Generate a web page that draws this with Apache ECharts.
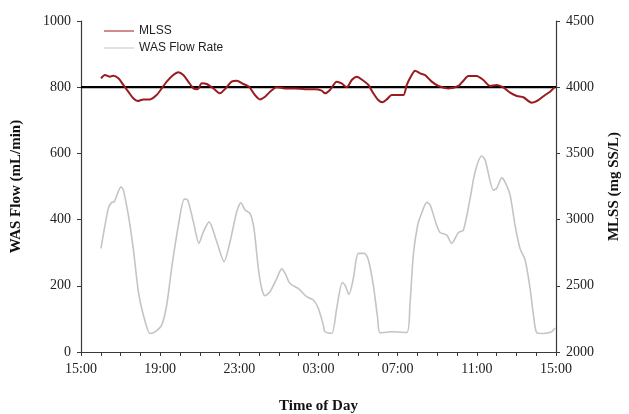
<!DOCTYPE html>
<html>
<head>
<meta charset="utf-8">
<script src="https://cdn.jsdelivr.net/npm/echarts@6/dist/echarts.min.js"></script>
<style>
  html, body { margin: 0; padding: 0; background: #ffffff; }
  #chart { width: 629px; height: 414px; }
</style>
</head>
<body>
<div id="chart"></div>
<script>
// Time is expressed in hours since midnight of the first day (15 = 15:00, 39 = 15:00 next day)
const wasHours = [16.01, 16.38, 16.55, 16.68, 17.02, 17.14, 17.39, 17.64, 17.9, 18.15, 18.49, 18.74, 19.08, 19.33, 19.58, 19.92, 20.22, 20.39, 20.68, 20.96, 21.18, 21.47,
  21.86, 22.23, 22.53, 22.87, 23.08, 23.29, 23.54, 23.74, 23.96, 24.13, 24.3, 24.55, 24.89, 25.14, 25.31, 25.56, 25.98, 26.4, 26.74, 26.99, 27.24,
  27.33, 27.67, 27.92, 28.2, 28.34, 28.54, 28.76, 29.01, 29.32, 29.52, 29.77, 29.99, 30.11, 30.7, 31.46, 31.62, 31.79, 32.01, 32.21, 32.47, 32.64, 32.97,
  33.14, 33.48, 33.73, 34.07, 34.32, 34.66, 34.91, 35.25, 35.42, 35.84, 36.0, 36.26, 36.42, 36.68, 36.93, 37.18, 37.44, 37.69, 37.86, 38.03, 38.36, 38.78, 38.95];
const wasFlow = [313, 434, 452, 454, 499, 489, 414, 313, 182, 112, 56, 61, 82, 142, 253, 383, 462, 459, 393, 328, 363, 393,
  333, 273, 333, 424, 451, 429, 419, 373, 253, 192, 170, 182, 222, 251, 238, 207, 192, 167, 157, 132, 82,
  61, 56, 132, 210, 202, 174, 222, 298, 298, 278, 202, 102, 58, 61, 59, 142, 293, 383, 419, 452, 444, 383,
  361, 353, 328, 361, 368, 464, 544, 592, 580, 489, 494, 526, 514, 474, 383, 313, 278, 192, 112, 58, 56, 61, 73];

const mlssHours = [16.01, 16.21, 16.47, 16.63, 16.89, 17.14, 17.39, 17.64, 17.86, 18.15, 18.49, 18.82, 19.08, 19.33, 19.66, 19.92, 20.17, 20.42, 20.68, 20.9,
  21.1, 21.35, 21.69, 22.02, 22.31, 22.61, 22.87, 23.2, 23.49, 23.79, 24.04, 24.3, 24.55, 24.89, 25.31, 25.81, 26.32, 26.82, 27.16,
  27.33, 27.58, 27.92, 28.17, 28.43, 28.68, 28.93, 29.27, 29.52, 29.77, 30.02, 30.23, 30.45, 30.7, 30.95, 31.29, 31.46, 31.71, 31.88, 32.13,
  32.38, 32.72, 33.06, 33.56, 34.07, 34.32, 34.57, 34.99, 35.33, 35.67, 36.0, 36.34, 36.68, 37.02, 37.35, 37.77, 38.11, 38.45, 38.7, 38.92];
const mlssValues = [4067, 4092, 4079, 4087, 4067, 4017, 3966, 3916, 3896, 3908, 3908, 3941, 3991, 4042, 4092, 4113, 4092, 4042, 3991, 3984,
  4029, 4024, 3991, 3954, 3991, 4042, 4049, 4024, 4004, 3941, 3908, 3928, 3966, 3999, 3991, 3991, 3984, 3984, 3974,
  3954, 3979, 4042, 4029, 3999, 4054, 4079, 4049, 4017, 3954, 3903, 3886, 3908, 3941, 3941, 3941, 4017, 4092, 4125, 4105,
  4092, 4042, 4009, 3991, 4009, 4049, 4085, 4085, 4054, 4009, 4017, 3999, 3959, 3934, 3924, 3883, 3903, 3941, 3966, 3999];

// Reference level drawn across the whole day
const refHours = [15, 39];
const refFlow = [800, 800];

const leftTicks = { min: 0, max: 1000, interval: 200 };
const rightTicks = { min: 2000, max: 4500, interval: 500 };
const xTicks = { min: 15, max: 39, interval: 1, labelEvery: 4 };

const zip = (xs, ys) => xs.map((x, i) => [x, ys[i]]);
const pad = n => (n < 10 ? '0' : '') + n;

const serif = '"Liberation Serif", "Times New Roman", serif';
const sans = '"Liberation Sans", Arial, sans-serif';
const axisColor = '#3a3a3a';

const chart = echarts.init(document.getElementById('chart'), null, { renderer: 'canvas' });
chart.setOption({
  animation: false,
  backgroundColor: '#ffffff',
  grid: { left: 81, right: 73, top: 21, bottom: 62, containLabel: false, outerBoundsMode: 'none' },
  legend: {
    left: 99, top: 20, orient: 'vertical', itemGap: 5,
    itemWidth: 30, itemHeight: 10,
    textStyle: { fontFamily: sans, fontSize: 12, color: '#222' },
    data: [
      { name: 'MLSS', icon: 'path://M0,4.5 L30,4.5 L30,5.5 L0,5.5 Z' },
      { name: 'WAS Flow Rate', icon: 'path://M0,4.5 L30,4.5 L30,5.5 L0,5.5 Z' }
    ]
  },
  xAxis: {
    type: 'value', min: xTicks.min, max: xTicks.max, interval: xTicks.interval,
    name: 'Time of Day', nameLocation: 'middle', nameGap: 47,
    nameTextStyle: { fontFamily: serif, fontSize: 15, fontWeight: 'bold', color: '#111' },
    axisLine: { lineStyle: { color: axisColor, width: 1.2 } },
    axisTick: { show: true, length: 4, lineStyle: { color: axisColor } },
    axisLabel: {
      fontFamily: serif, fontSize: 14, color: '#222', margin: 10,
      formatter: v => ((v - xTicks.min) % xTicks.labelEvery === 0 ? pad(v % 24) + ':00' : '')
    },
    splitLine: { show: false }
  },
  yAxis: [
    {
      type: 'value', min: leftTicks.min, max: leftTicks.max, interval: leftTicks.interval,
      name: 'WAS Flow (mL/min)', nameLocation: 'middle', nameGap: 57, nameRotate: 90,
      nameTextStyle: { fontFamily: serif, fontSize: 15, fontWeight: 'bold', color: '#111' },
      axisLine: { show: true, lineStyle: { color: axisColor, width: 1.2 } },
      axisTick: { show: true, length: 4, lineStyle: { color: axisColor } },
      axisLabel: { fontFamily: serif, fontSize: 14, color: '#222', margin: 10, formatter: v => String(v) },
      splitLine: { show: false }
    },
    {
      type: 'value', position: 'right', min: rightTicks.min, max: rightTicks.max, interval: rightTicks.interval,
      name: 'MLSS (mg SS/L)', nameLocation: 'middle', nameGap: 51, nameRotate: 90,
      nameTextStyle: { fontFamily: serif, fontSize: 15, fontWeight: 'bold', color: '#111' },
      axisLine: { show: true, lineStyle: { color: axisColor, width: 1.2 } },
      axisTick: { show: true, length: 4, lineStyle: { color: axisColor } },
      axisLabel: { fontFamily: serif, fontSize: 14, color: '#222', margin: 10, formatter: v => String(v) },
      splitLine: { show: false }
    }
  ],
  series: [
    {
      name: 'WAS Flow Rate', type: 'line', yAxisIndex: 0, data: zip(wasHours, wasFlow),
      showSymbol: false, smooth: 0.25, color: '#c4c4c4',
      lineStyle: { color: '#c4c4c4', width: 1.6 }
    },
    {
      name: 'Reference', type: 'line', yAxisIndex: 0, data: zip(refHours, refFlow),
      showSymbol: false, color: '#000', lineStyle: { color: '#000', width: 2.2 }, z: 3
    },
    {
      name: 'MLSS', type: 'line', yAxisIndex: 1, data: zip(mlssHours, mlssValues),
      showSymbol: false, smooth: 0.25, color: '#9a1a1e',
      lineStyle: { color: '#9a1a1e', width: 2 }, z: 4
    }
  ]
});
</script>
</body>
</html>
